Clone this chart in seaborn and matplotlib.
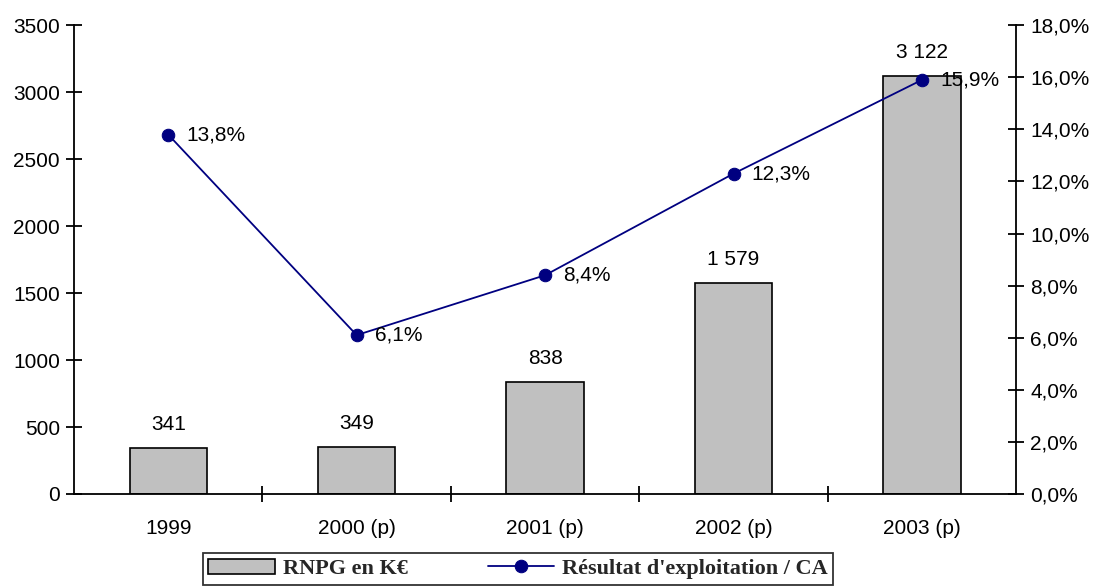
import numpy as np
import pandas as pd
import matplotlib
matplotlib.use('Agg')
import matplotlib.pyplot as plt
import seaborn as sns
from matplotlib.ticker import FuncFormatter, MultipleLocator, FixedLocator

# Données
annees = ['1999', '2000 (p)', '2001 (p)', '2002 (p)', '2003 (p)']
rnpg = [341, 349, 838, 1579, 3122]
marge = [13.8, 6.1, 8.4, 12.3, 15.9]

sns.set_theme(style='white')
plt.rcParams['font.family'] = ['Liberation Sans', 'DejaVu Sans']

FS = 15
df = pd.DataFrame({'annee': annees, 'rnpg': rnpg, 'marge': marge})

fig = plt.figure(figsize=(10.93, 5.86), dpi=100)
ax = fig.add_axes([0.0677, 0.157, 0.862, 0.8])

sns.barplot(data=df, x='annee', y='rnpg', color='#C0C0C0', edgecolor='black',
            linewidth=1.2, width=0.41, saturation=1, ax=ax, label='RNPG en K€')
ax.set_xlim(-0.5, 4.5)
ax.set_ylim(0, 3500)
ax.yaxis.set_major_locator(MultipleLocator(500))
ax.set_xlabel('')
ax.set_ylabel('')

# étiquettes des barres
for i, v in enumerate(rnpg):
    txt = f"{v:,}".replace(',', ' ')
    ax.annotate(txt, (i, v), xytext=(0, 10), textcoords='offset points',
                ha='center', va='bottom', fontsize=FS, color='black')

ax2 = ax.twinx()
sns.lineplot(x=np.arange(len(marge)), y=marge, ax=ax2, color='#000080',
             marker='o', markersize=9, markeredgecolor='#000080', linewidth=1.3,
             label="Résultat d'exploitation / CA")
ax2.set_ylim(0, 18)
ax2.set_xlim(-0.5, 4.5)
ax2.yaxis.set_major_locator(MultipleLocator(2))
ax2.yaxis.set_major_formatter(FuncFormatter(lambda v, p: f"{v:.1f}%".replace('.', ',')))

for i, v in enumerate(marge):
    ax2.annotate(f"{v:.1f}%".replace('.', ','), (i, v), xytext=(13, 0),
                 textcoords='offset points', ha='left', va='center',
                 fontsize=FS, color='black')

# axes style
for a in (ax, ax2):
    for s in a.spines.values():
        s.set_color('black')
        s.set_linewidth(1.3)
    a.spines['top'].set_visible(False)
ax.spines['right'].set_visible(False)
ax2.spines['left'].set_visible(False)
ax2.spines['bottom'].set_visible(False)

ax.tick_params(axis='y', direction='inout', length=12, width=1.3, labelsize=FS,
               colors='black', left=True, pad=4)
ax2.tick_params(axis='y', direction='inout', length=12, width=1.3, labelsize=FS,
                colors='black', right=True, pad=4)
ax.xaxis.set_minor_locator(FixedLocator([0.5, 1.5, 2.5, 3.5]))
ax.tick_params(axis='x', which='major', length=0, labelsize=FS, colors='black', pad=18)
ax.tick_params(axis='x', which='minor', direction='inout', length=12, width=1.3,
               colors='black', bottom=True)
ax2.tick_params(axis='x', length=0, labelbottom=False)

if ax.get_legend():
    ax.get_legend().remove()
if ax2.get_legend():
    ax2.get_legend().remove()

h1, l1 = ax.get_legend_handles_labels()
h2, l2 = ax2.get_legend_handles_labels()
leg = fig.legend(h1 + h2, l1 + l2, loc='upper center', bbox_to_anchor=(0.474, 0.0563),
                 ncol=2, frameon=True, fancybox=False, edgecolor='black',
                 prop={'family': 'Liberation Serif', 'weight': 'bold', 'size': 16},
                 handlelength=3.0, columnspacing=3.6, borderpad=0.25, handletextpad=0.35,
                 borderaxespad=0)
leg.get_frame().set_linewidth(1.3)

fig.savefig('out.png', dpi=100, facecolor='white')
